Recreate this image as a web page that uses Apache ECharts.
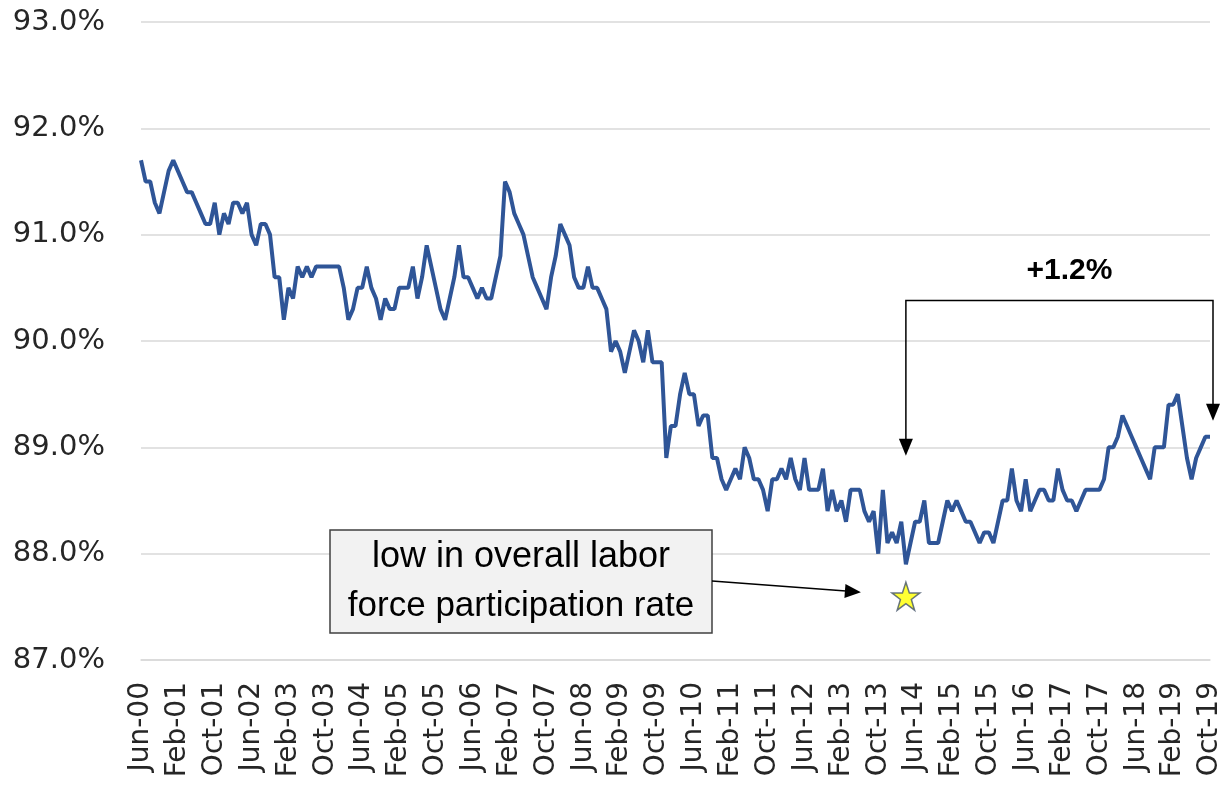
<!DOCTYPE html>
<html><head><meta charset="utf-8">
<script src="https://cdn.jsdelivr.net/npm/echarts@6/dist/echarts.min.js"></script>
<style>html,body{margin:0;padding:0;background:#fff}#c{width:1224px;height:793px}</style>
</head><body><div id="c"></div>
<script>
// ---- data ----
const monthNames = ['Jan','Feb','Mar','Apr','May','Jun','Jul','Aug','Sep','Oct','Nov','Dec'];
const startYear = 2000, startMonthIdx = 5; // Jun-00
const rateValues = [
91.7,91.5,91.5,91.3,91.2,91.4,91.6,91.7,91.6,91.5,91.4,91.4,91.3,91.2,91.1,91.1,91.3,91.0,91.2,91.1,
91.3,91.3,91.2,91.3,91.0,90.9,91.1,91.1,91.0,90.6,90.6,90.2,90.5,90.4,90.7,90.6,90.7,90.6,90.7,90.7,
90.7,90.7,90.7,90.7,90.5,90.2,90.3,90.5,90.5,90.7,90.5,90.4,90.2,90.4,90.3,90.3,90.5,90.5,90.5,90.7,
90.4,90.6,90.9,90.7,90.5,90.3,90.2,90.4,90.6,90.9,90.6,90.6,90.5,90.4,90.5,90.4,90.4,90.6,90.8,91.5,
91.4,91.2,91.1,91.0,90.8,90.6,90.5,90.4,90.3,90.6,90.8,91.1,91.0,90.9,90.6,90.5,90.5,90.7,90.5,90.5,
90.4,90.3,89.9,90.0,89.9,89.7,89.9,90.1,90.0,89.8,90.1,89.8,89.8,89.8,88.9,89.2,89.2,89.5,89.7,89.5,
89.5,89.2,89.3,89.3,88.9,88.9,88.7,88.6,88.7,88.8,88.7,89.0,88.9,88.7,88.7,88.6,88.4,88.7,88.7,88.8,
88.7,88.9,88.7,88.6,88.9,88.6,88.6,88.6,88.8,88.4,88.6,88.4,88.5,88.3,88.6,88.6,88.6,88.4,88.3,88.4,
88.0,88.6,88.1,88.2,88.1,88.3,87.9,88.1,88.3,88.3,88.5,88.1,88.1,88.1,88.3,88.5,88.4,88.5,88.4,88.3,
88.3,88.2,88.1,88.2,88.2,88.1,88.3,88.5,88.5,88.8,88.5,88.4,88.7,88.4,88.5,88.6,88.6,88.5,88.5,88.8,
88.6,88.5,88.5,88.4,88.5,88.6,88.6,88.6,88.6,88.7,89.0,89.0,89.1,89.3,89.2,89.1,89.0,88.9,88.8,88.7,
89.0,89.0,89.0,89.4,89.4,89.5,89.2,88.9,88.7,88.9,89.0,89.1,89.1
];
const categories = [];
for (let i = 0; i < rateValues.length; i++) {
  const m = startMonthIdx + i;
  categories.push(monthNames[m % 12] + '-' + String((startYear + Math.floor(m / 12)) % 100).padStart(2, '0'));
}
const yTicks = [87, 88, 89, 90, 91, 92, 93];
const starCategory = 'Apr-14';
const starValue = 87.6;
const bracketFrom = 'Apr-14', bracketTo = 'Oct-19';
const bracketTop = 90.38, bracketLeftTip = 88.92, bracketRightTip = 89.25;
const bracketLabel = '+1.2%';
const boxLines = ['low in overall labor', 'force participation rate'];

// ---- chart ----
const chart = echarts.init(document.getElementById('c'));
const STAR = 'path://M50,2 L61.8,36.2 L97.6,36.2 L68.6,57.4 L79.6,91.6 L50,70.4 L20.4,91.6 L31.4,57.4 L2.4,36.2 L38.2,36.2 Z';
chart.setOption({
  animation: false,
  grid: { left: 141, right: 11, top: 22, bottom: 133, containLabel: false },
  xAxis: {
    type: 'category', data: categories, boundaryGap: false,
    axisLine: { lineStyle: { color: '#d9d9d9', width: 1.5 } },
    axisTick: { show: false },
    axisLabel: { interval: 7, rotate: 90, margin: 22, fontFamily: 'DejaVu Sans', fontSize: 28, color: '#262626' },
    splitLine: { show: false }
  },
  yAxis: {
    type: 'value', min: yTicks[0], max: yTicks[yTicks.length - 1], interval: 1,
    axisLine: { show: false }, axisTick: { show: false },
    axisLabel: { margin: 36, fontFamily: 'DejaVu Sans', fontSize: 29, color: '#262626', formatter: v => v.toFixed(1) + '%' },
    splitLine: { lineStyle: { color: '#d9d9d9', width: 1.5 } }
  },
  series: [
    { type: 'line', data: rateValues, showSymbol: false, symbol: 'none',
      lineStyle: { color: '#2f5597', width: 4 }, z: 3 },
    { type: 'scatter', data: [[starCategory, starValue]], symbol: STAR, symbolSize: 28,
      itemStyle: { color: '#ffff00', borderColor: '#44546a', borderWidth: 1.5 }, z: 4 }
  ]
});

function px(cat, v) { return chart.convertToPixel({ xAxisIndex: 0, yAxisIndex: 0 }, [categories.indexOf(cat), v]); }
function head(tip, dx, dy, len, half) {
  const L = Math.hypot(dx, dy); const ux = dx / L, uy = dy / L;
  const bx = tip[0] - ux * len, by = tip[1] - uy * len;
  return [[tip[0], tip[1]], [bx - uy * half, by + ux * half], [bx + uy * half, by - ux * half]];
}
const pL = px(bracketFrom, bracketTop), pR = px(bracketTo, bracketTop);
const tipL = px(bracketFrom, bracketLeftTip), tipR = px(bracketTo, bracketRightTip);
const xr = pR[0] + 3;
const star = px(starCategory, starValue);
const boxX = 330, boxY = 530, boxW = 382, boxH = 103;
const aStart = [boxX + boxW, boxY + 51];
const aTip = [star[0] - 45, star[1] - 4];
const g = [
  { type: 'polyline', shape: { points: [[pL[0], tipL[1] - 14], [pL[0], pL[1]], [xr, pL[1]], [xr, tipR[1] - 14]] },
    style: { stroke: '#000', lineWidth: 1.5, fill: null }, z: 10 },
  { type: 'polygon', shape: { points: head(tipL, 0, 1, 17, 7) }, style: { fill: '#000' }, z: 10 },
  { type: 'polygon', shape: { points: head([xr, tipR[1]], 0, 1, 17, 7) }, style: { fill: '#000' }, z: 10 },
  { type: 'text', style: { text: bracketLabel, x: (pL[0] + xr) / 2 + 10, y: pL[1] - 30, align: 'center', verticalAlign: 'middle',
      font: 'bold 30px "Liberation Sans"', fill: '#000' }, z: 10 },
  { type: 'rect', shape: { x: boxX, y: boxY, width: boxW, height: boxH },
    style: { fill: '#f2f2f2', stroke: '#404040', lineWidth: 1.5 }, z: 10 },
  { type: 'text', style: { text: boxLines[0], x: boxX + boxW / 2, y: boxY + 27, align: 'center', verticalAlign: 'middle',
      font: '36px "Liberation Sans"', fill: '#000' }, z: 11 },
  { type: 'text', style: { text: boxLines[1], x: boxX + boxW / 2, y: boxY + 76, align: 'center', verticalAlign: 'middle',
      font: '35px "Liberation Sans"', fill: '#000' }, z: 11 },
  { type: 'line', shape: { x1: aStart[0], y1: aStart[1], x2: aTip[0] - (aTip[0] - aStart[0]) * 0.1, y2: aTip[1] - (aTip[1] - aStart[1]) * 0.1 },
    style: { stroke: '#000', lineWidth: 1.5 }, z: 10 },
  { type: 'polygon', shape: { points: head(aTip, aTip[0] - aStart[0], aTip[1] - aStart[1], 16, 7) }, style: { fill: '#000' }, z: 10 }
];
chart.setOption({ graphic: g });
</script>
</body></html>
